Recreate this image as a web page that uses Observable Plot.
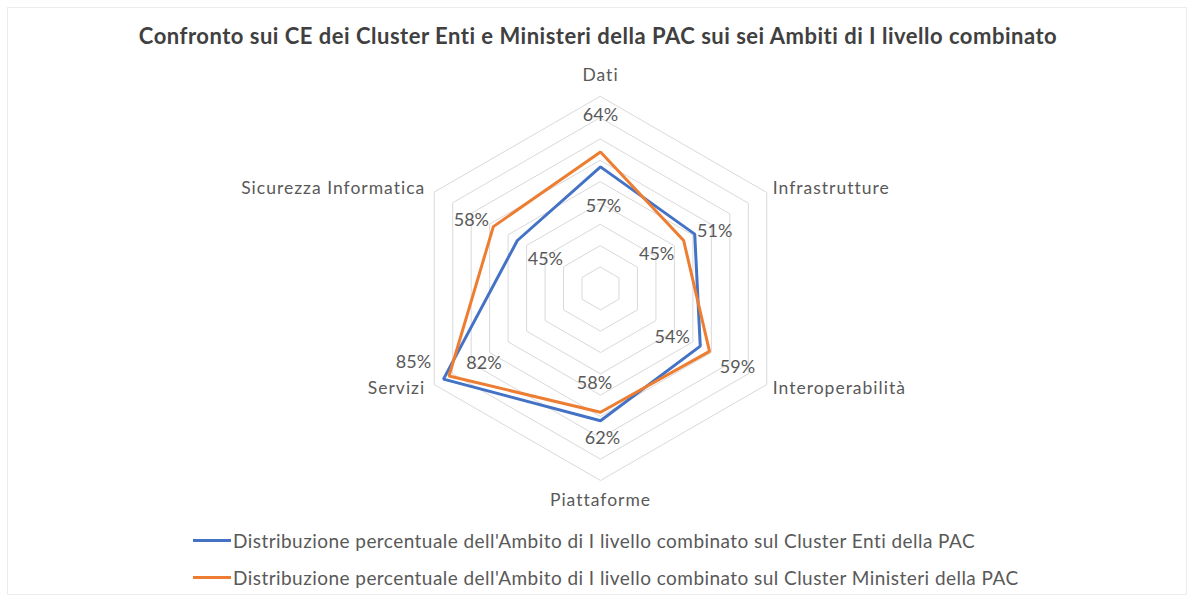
<!DOCTYPE html>
<html>
<head>
<meta charset="utf-8">
<script src="https://cdn.jsdelivr.net/npm/d3@7"></script>
<script src="https://cdn.jsdelivr.net/npm/@observablehq/plot@0.6"></script>
<style>
  html, body { margin: 0; padding: 0; background: #fff; }
  body { width: 1191px; height: 599px; position: relative; overflow: hidden; font-family: Lato, "Open Sans", sans-serif; }
  #frame { position: absolute; left: 7px; top: 7px; width: 1180px; height: 588px; border: 1px solid #ececec; box-sizing: border-box; }
  #title { position: absolute; left: 0; width: 1196px; top: 22px; text-align: center; font-weight: bold; font-size: 22px; letter-spacing: 0.5px; color: #404040; line-height: 28px; }
  #chart { position: absolute; left: 0; top: 56px; }
  #legend { position: absolute; left: 193px; top: 522px; font-size: 19px; letter-spacing: 0.45px; color: #595959; }
  .item { display: flex; align-items: center; height: 37px; }
  .swatch { width: 38px; height: 3px; margin-right: 2px; }
</style>
</head>
<body>
<div id="frame"></div>
<div id="title">Confronto sui CE dei Cluster Enti e Ministeri della PAC sui sei Ambiti di I livello combinato</div>
<div id="chart"></div>
<div id="legend"></div>
<script>
// ---- data ----
const categories = ["Dati", "Infrastrutture", "Interoperabilità", "Piattaforme", "Servizi", "Sicurezza Informatica"];
const seriesNames = [
  "Distribuzione percentuale dell'Ambito di I livello combinato sul Cluster Enti della PAC",
  "Distribuzione percentuale dell'Ambito di I livello combinato sul Cluster Ministeri della PAC"
];
const enti = [0.57, 0.51, 0.54, 0.62, 0.85, 0.45];
const ministeri = [0.64, 0.45, 0.59, 0.58, 0.82, 0.58];
const gridLevels = [0.1, 0.2, 0.3, 0.4, 0.5, 0.6, 0.7, 0.8, 0.9];
const rMax = 0.9;

// ---- style ----
const colors = ["#4472C4", "#ED7D31"];
const W = 1191, H = 470;
const k = 192 / rMax;            // px per unit
const cx = 600, cy = 232;         // centre in svg pixels
// label offsets (px) per series, per category
const labelOffsets = [
  [[3, 39], [20, -3], [-28, -9], [2, 17], [-30, -17], [28, 19]],
  [[0, -37], [-27, 14], [28, 16], [-6, -29], [35, -13], [-22, -6]]
];
const axisLabelStyle = [
  {anchor: "middle", dx: 0, dy: -21},
  {anchor: "start", dx: 6, dy: -4},
  {anchor: "start", dx: 6, dy: 4},
  {anchor: "middle", dx: 0, dy: 20},
  {anchor: "end", dx: -9, dy: 4},
  {anchor: "end", dx: -9, dy: -4}
];

const angle = i => (i * 2 * Math.PI) / categories.length;
const px = (i, r) => r * Math.sin(angle(i));
const py = (i, r) => r * Math.cos(angle(i));

const grid = gridLevels.flatMap(l => categories.map((c, i) => ({level: l, x: px(i, l), y: py(i, l)})));
const seriesVals = [enti, ministeri];
const pts = seriesVals.flatMap((vals, s) => vals.map((v, i) => ({
  s, name: seriesNames[s], cat: categories[i], v, x: px(i, v), y: py(i, v),
  dx: labelOffsets[s][i][0], dy: labelOffsets[s][i][1]
})));
const axisPts = categories.map((c, i) => ({cat: c, x: px(i, rMax), y: py(i, rMax), ...axisLabelStyle[i]}));

const marks = [
  Plot.line(grid, {x: "x", y: "y", z: "level", curve: "linear-closed", stroke: "#d9d9d9", strokeWidth: 1})
];
for (let s = 0; s < 2; s++) {
  marks.push(Plot.line(pts.filter(d => d.s === s), {x: "x", y: "y", curve: "linear-closed", stroke: colors[s], strokeWidth: 3, strokeLinejoin: "miter"}));
}
for (const d of axisPts) {
  marks.push(Plot.text([d], {x: "x", y: "y", text: "cat", textAnchor: d.anchor, dx: d.dx, dy: d.dy, fill: "#595959", fontSize: 17.5, className: "axlab"}));
}
for (const d of pts) {
  marks.push(Plot.text([d], {x: "x", y: "y", text: d => Math.round(d.v * 100) + "%", dx: d.dx, dy: d.dy, fill: "#595959", fontSize: 18}));
}

const chart = Plot.plot({
  width: W, height: H,
  margin: 0,
  x: {domain: [-cx / k, (W - cx) / k], range: [0, W], axis: null},
  y: {domain: [-(H - cy) / k, cy / k], range: [H, 0], axis: null},
  style: {fontFamily: "Lato, 'Open Sans', sans-serif", background: "transparent"},
  marks
});
chart.querySelectorAll(".axlab").forEach(g => g.setAttribute("letter-spacing", "1"));
document.getElementById("chart").appendChild(chart);

const legend = document.getElementById("legend");
seriesNames.forEach((n, s) => {
  const item = document.createElement("div");
  item.className = "item";
  const sw = document.createElement("div");
  sw.className = "swatch";
  sw.style.background = colors[s];
  const t = document.createElement("span");
  t.textContent = n;
  item.appendChild(sw); item.appendChild(t);
  legend.appendChild(item);
});
</script>
</body>
</html>
